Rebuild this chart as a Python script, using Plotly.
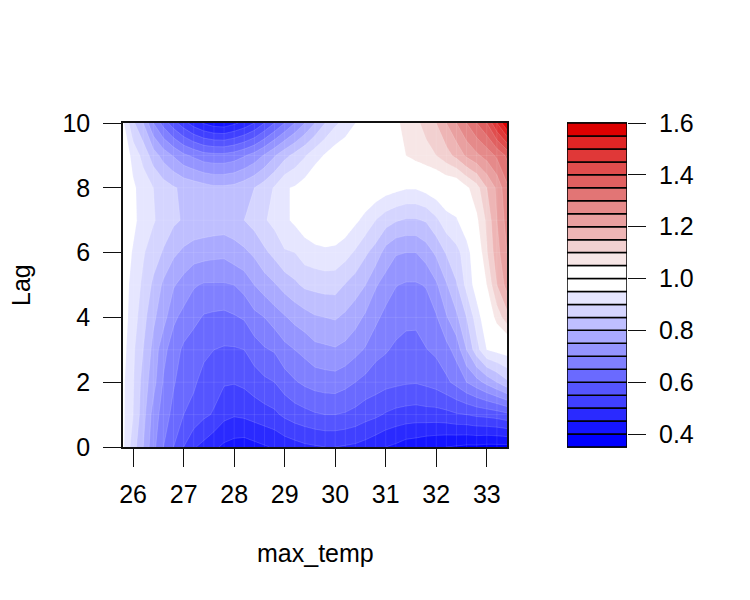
import plotly.graph_objects as go

x_vals = [25.8,26,26.2,26.4,26.6,26.8,27,27.2,27.4,27.6,27.8,28,28.2,28.4,28.6,28.8,29,29.2,29.4,29.6,29.8,30,30.2,30.4,30.6,30.8,31,31.2,31.4,31.6,31.8,32,32.2,32.4,32.6,32.8,33,33.2,33.4]
lag_vals = [0,1,2,3,4,5,6,7,8,9,10]
lag00 = [.96,.875,.80,.715,.65,.60,.55,.505,.485,.46,.44,.43,.425,.435,.445,.455,.47,.48,.49,.495,.50,.50,.495,.49,.48,.465,.45,.44,.425,.42,.41,.405,.40,.395,.39,.39,.385,.385,.385]
lag01 = [.96,.90,.82,.73,.675,.635,.60,.585,.56,.545,.515,.505,.51,.52,.53,.54,.56,.575,.585,.595,.60,.60,.595,.585,.57,.56,.545,.535,.53,.527,.53,.53,.535,.545,.55,.56,.565,.573,.587]
lag02 = [.96,.905,.83,.77,.695,.655,.625,.607,.585,.57,.555,.553,.56,.575,.59,.60,.625,.645,.66,.67,.675,.677,.665,.65,.635,.625,.615,.61,.605,.603,.61,.62,.64,.665,.70,.73,.765,.80,.84]
lag03 = [.97,.91,.85,.785,.715,.675,.64,.622,.61,.60,.595,.595,.60,.625,.645,.655,.685,.70,.715,.735,.74,.745,.735,.715,.695,.665,.655,.64,.632,.63,.648,.66,.683,.72,.80,.88,.95,.965,.975]
lag04 = [.975,.925,.87,.81,.77,.71,.685,.665,.645,.64,.637,.645,.655,.685,.70,.725,.745,.765,.78,.795,.80,.805,.79,.77,.741,.713,.683,.674,.663,.663,.676,.695,.745,.79,.85,.925,.99,1.07,1.13]
lag05 = [.98,.93,.89,.84,.79,.755,.73,.705,.695,.695,.695,.70,.72,.75,.775,.795,.82,.84,.86,.865,.87,.87,.847,.825,.80,.755,.73,.702,.695,.695,.703,.742,.795,.845,.915,.975,1.05,1.15,1.22]
lag06 = [.985,.945,.905,.875,.845,.81,.79,.775,.77,.765,.763,.78,.79,.81,.84,.865,.895,.90,.925,.935,.94,.936,.92,.893,.858,.83,.78,.755,.75,.75,.775,.81,.855,.885,.925,1.0,1.095,1.18,1.25]
lag07 = [1.0,.965,.925,.905,.88,.86,.845,.84,.835,.833,.83,.83,.85,.87,.895,.915,.94,.96,.98,.995,1.0,1.0,.985,.96,.935,.90,.873,.855,.845,.845,.855,.89,.93,.945,.99,1.04,1.11,1.2,1.27]
lag08 = [1.0,.96,.925,.90,.875,.855,.84,.83,.82,.81,.81,.815,.83,.85,.875,.905,.945,.955,.975,1.0,1.0,1.0,1.0,1.0,.995,.99,.975,.965,.955,.955,.97,.985,1.0,1.0,1.04,1.08,1.15,1.21,1.29]
lag09 = [1.0,.93,.885,.825,.78,.745,.71,.69,.67,.665,.665,.675,.695,.72,.755,.795,.835,.865,.895,.93,.955,.98,.99,1.0,1.0,1.0,1.0,1.03,1.05,1.07,1.085,1.1,1.13,1.165,1.21,1.24,1.27,1.31,1.36]
lag10 = [.96,.86,.80,.70,.63,.57,.52,.475,.445,.425,.42,.44,.465,.5,.55,.6,.65,.70,.75,.80,.85,.89,.92,.95,.985,1.0,1.02,1.04,1.065,1.09,1.115,1.15,1.2,1.25,1.30,1.35,1.4,1.5,1.6]
z_vals = [lag00,lag01,lag02,lag03,lag04,lag05,lag06,lag07,lag08,lag09,lag10]
for row in z_vals:
    assert len(row) == len(x_vals), len(row)

levels = [0.35,0.40,0.45,0.50,0.55,0.60,0.65,0.70,0.75,0.80,0.85,0.90,0.95,1.00,1.05,1.10,1.15,1.20,1.25,1.30,1.35,1.40,1.45,1.50,1.55]
level_colors = ["#0000FF","#1515FF","#2A2AFF","#4040FF","#5555FF","#6A6AFF","#8080FF","#9595FF","#AAAAFF","#BFBFFF","#D5D5FF","#E6E6FF","#FFFFFF",
                "#FFFFFF","#F7E6E6","#F2D0D0","#EEB5B5","#E9A0A0","#E58A8A","#E27575","#E06060","#E04D4D","#E03838","#E02525","#DD0000"]
xticks = [26,27,28,29,30,31,32,33]
yticks = [0,2,4,6,8,10]
cbticks = [0.4,0.6,0.8,1.0,1.2,1.4,1.6]

FONT = "Liberation Sans"
n = len(levels)
scale = []
for i, c in enumerate(level_colors):
    scale.append([(i + 0.5) / (n + 1), c])
    scale.append([(i + 1.5) / (n + 1), c])
scale = [[0, level_colors[0]]] + scale + [[1, level_colors[-1]]]

fig = go.Figure()
fig.add_trace(go.Contour(x=x_vals, y=lag_vals, z=z_vals, autocontour=False,
    contours=dict(start=0.35, end=1.6, size=0.05, coloring="fill"),
    colorscale=scale, showscale=False,
    line=dict(color="rgba(255,255,255,0.3)", width=0.5, smoothing=0),
    xaxis="x", yaxis="y", hoverinfo="skip"))
sx, sy = [], []
for v in x_vals[1:-1]:
    sx += [v, v, None]; sy += [lag_vals[0], lag_vals[-1], None]
for v in lag_vals[1:-1]:
    sx += [x_vals[0], x_vals[-1], None]; sy += [v, v, None]
fig.add_trace(go.Scatter(x=sx, y=sy, mode="lines", line=dict(color="rgba(255,255,255,0.16)", width=0.6),
    hoverinfo="skip", showlegend=False, xaxis="x", yaxis="y"))
fig.add_trace(go.Bar(x=[0]*n, base=levels, y=[0.05]*n, width=1, marker=dict(color=level_colors, line=dict(color="black", width=1.5)),
    hoverinfo="skip", showlegend=False, xaxis="x2", yaxis="y2"))

axis = dict(showgrid=False, zeroline=False, showline=True, mirror=True, linecolor="#111", linewidth=1.5,
            ticks="outside", ticklen=18, tickwidth=1, tickcolor="#111")
fig.update_layout(
    width=750, height=600, margin=dict(l=115, r=131, t=115, b=161), autosize=False,
    paper_bgcolor="white", plot_bgcolor="white", showlegend=False,
    font=dict(family=FONT, size=25, color="black"),
    xaxis=dict(axis, domain=[0, 384/504], range=[25.8, 33.4], tickvals=xticks, ticklabelstandoff=6),
    yaxis=dict(axis, domain=[0, 1], range=[0, 10], tickvals=yticks, ticklabelstandoff=8),
    xaxis2=dict(domain=[444/504, 1], range=[-0.5, 0.5], showticklabels=False, ticks="", showgrid=False, zeroline=False,
                showline=True, mirror=True, linecolor="#111", linewidth=1),
    yaxis2=dict(anchor="x2", side="right", domain=[0, 1], range=[0.35, 1.6], tickvals=cbticks, tickformat=".1f",
                showgrid=False, zeroline=False, showline=False, ticks="outside", ticklen=18, tickwidth=1,
                tickcolor="#111", ticklabelstandoff=8),
    annotations=[
        dict(text="max_temp", xref="x domain", yref="paper", x=0.5, y=0, yshift=-106, showarrow=False, yanchor="middle"),
        dict(text="Lag", xref="paper", yref="paper", x=0, y=0.5, xshift=-102, textangle=-90, showarrow=False, xanchor="center"),
    ],
)
fig.write_html("out.html")
